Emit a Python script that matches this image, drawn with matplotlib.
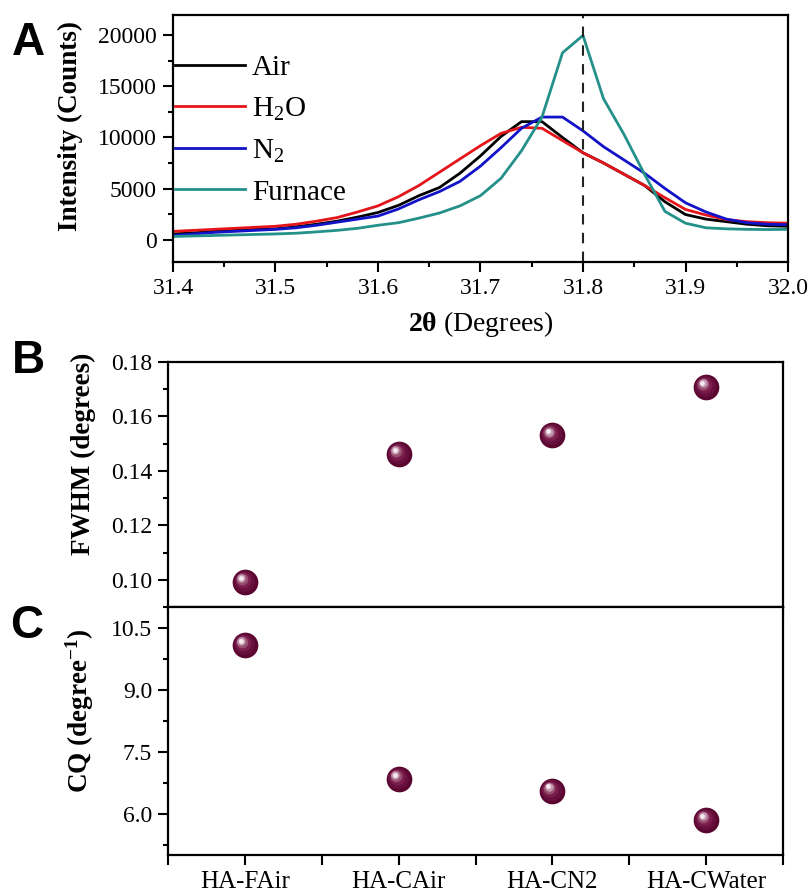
import matplotlib
matplotlib.use('Agg')
import matplotlib.pyplot as plt
import numpy as np
from matplotlib.transforms import offset_copy
from matplotlib.ticker import MultipleLocator, FormatStrFormatter

# ---------------- data ----------------
two_theta = [31.40, 31.42, 31.44, 31.46, 31.48, 31.50, 31.52, 31.54, 31.56, 31.58,
             31.60, 31.62, 31.64, 31.66, 31.68, 31.70, 31.72, 31.74, 31.76, 31.78,
             31.80, 31.82, 31.84, 31.86, 31.88, 31.90, 31.92, 31.94, 31.96, 31.98, 32.00]
air = [550, 650, 800, 900, 1000, 1050, 1250, 1500, 1800, 2200,
       2650, 3350, 4300, 5100, 6500, 8200, 10100, 11550, 11550, 10000,
       8500, 7500, 6400, 5300, 3700, 2450, 2000, 1750, 1500, 1350, 1300]
h2o = [800, 900, 1000, 1100, 1200, 1300, 1500, 1800, 2150, 2700,
       3300, 4200, 5300, 6600, 7900, 9200, 10400, 11000, 10900, 9700,
       8500, 7500, 6400, 5300, 4100, 2950, 2400, 1950, 1750, 1650, 1600]
n2 = [400, 550, 700, 800, 900, 1000, 1150, 1400, 1700, 2000,
      2300, 3000, 3900, 4700, 5700, 7200, 9000, 10900, 12000, 12000,
      10650, 9100, 7800, 6500, 5000, 3600, 2700, 2000, 1650, 1500, 1450]
furnace = [300, 350, 400, 450, 500, 550, 620, 750, 900, 1100,
           1400, 1650, 2100, 2600, 3300, 4300, 6000, 8700, 12000, 18300,
           20000, 13800, 10300, 6400, 2750, 1600, 1150, 1050, 1000, 980, 1000]
peak_ref = 31.8

samples = ['HA-FAir', 'HA-CAir', 'HA-CN2', 'HA-CWater']
fwhm = [0.0993, 0.1462, 0.1531, 0.1709]
cq = [10.09, 6.85, 6.56, 5.85]

# ---------------- style ----------------
plt.rcParams['font.family'] = ['Liberation Serif', 'DejaVu Serif']
plt.rcParams['mathtext.fontset'] = 'custom'
plt.rcParams['mathtext.rm'] = 'Liberation Serif'
plt.rcParams['mathtext.it'] = 'Liberation Serif:italic'
plt.rcParams['mathtext.bf'] = 'Liberation Serif:bold'

W, H = 810, 894
fig = plt.figure(figsize=(W / 100, H / 100), dpi=100)


def rect(l, t, r, b):
    return [l / W, 1 - b / H, (r - l) / W, (b - t) / H]


axA = fig.add_axes(rect(173, 15, 788, 262))
axB = fig.add_axes(rect(168, 362, 783, 607))
axC = fig.add_axes(rect(168, 607, 783, 855))

for ax in (axA, axB, axC):
    for s in ax.spines.values():
        s.set_linewidth(1.6)
    ax.tick_params(which='both', direction='out', width=1.5, top=False, right=False,
                   labelsize=17, pad=4)
    ax.tick_params(which='major', length=7.5)
    ax.tick_params(which='minor', length=3.5)

# ---------------- panel A ----------------
series = [(air, 'Air', '#000000'), (h2o, 'H$_2$O', '#e3151b'),
          (n2, 'N$_2$', '#1212c8'), (furnace, 'Furnace', '#24908a')]
for ys, lab, col in series:
    axA.plot(two_theta, ys, color=col, lw=2.0, label=lab)
axA.axvline(peak_ref, color='#222222', lw=1.5, ls=(0, (5, 4)))
axA.set_xlim(31.4, 32.0)
axA.set_ylim(-2200, 22000)
axA.xaxis.set_major_locator(MultipleLocator(0.1))
axA.xaxis.set_minor_locator(MultipleLocator(0.05))
axA.xaxis.set_major_formatter(FormatStrFormatter('%.1f'))
axA.yaxis.set_major_locator(MultipleLocator(5000))
axA.yaxis.set_minor_locator(MultipleLocator(2500))
axA.set_ylabel('Intensity (Counts)', fontsize=19.5, fontweight='bold')
axA.yaxis.set_label_coords(-0.146, 0.55)
axA.set_xlabel(r'$\mathbf{2θ}$ (Degrees)', fontsize=20, labelpad=7)
leg = axA.legend(loc='upper left', bbox_to_anchor=(0.003, 0.84), frameon=False,
                 fontsize=21, handlelength=2.4, handletextpad=0.25, labelspacing=0.5,
                 borderpad=0, borderaxespad=0)
for l in leg.get_lines():
    l.set_linewidth(2.0)


# ---------------- spheres ----------------
def spheres(ax, xs, ys):
    ax.plot(xs, ys, 'o', ms=18.5, color='#5a0631', mec='none', zorder=3)
    layers = [(-0.7, 0.7, 15, '#68103d'), (-1.4, 1.4, 11.5, '#7a1d4d'),
              (-2.1, 2.1, 8.5, '#985071'), (-2.6, 2.6, 6, '#c597b0'),
              (-2.9, 2.9, 3.5, '#f5eaf0')]
    for dx, dy, ms, c in layers:
        tr = offset_copy(ax.transData, fig=fig, x=dx, y=dy, units='points')
        ax.plot(xs, ys, 'o', ms=ms, color=c, mec='none', transform=tr, zorder=4)


xpos = np.arange(1, len(samples) + 1)
for ax, vals in ((axB, fwhm), (axC, cq)):
    spheres(ax, xpos, vals)
    ax.set_xlim(0.5, len(samples) + 0.5)
    ax.set_xticks(xpos)
    ax.xaxis.set_minor_locator(MultipleLocator(0.5))
    ax.tick_params(axis='x', which='both', length=7.5)

axB.tick_params(axis='x', labelbottom=False)
axB.set_ylim(0.09, 0.18)
axB.yaxis.set_major_locator(MultipleLocator(0.02))
axB.yaxis.set_minor_locator(MultipleLocator(0.01))
axB.yaxis.set_major_formatter(FormatStrFormatter('%.2f'))
axB.set_ylabel('FWHM (degrees)', fontsize=19.5, fontweight='bold')
axB.yaxis.set_label_coords(-0.117, 0.625)

axC.set_xticklabels(samples)
axC.tick_params(axis='x', labelsize=18, pad=4)
axC.set_ylim(5.0, 11.0)
axC.yaxis.set_major_locator(MultipleLocator(1.5))
axC.yaxis.set_minor_locator(MultipleLocator(0.75))
axC.yaxis.set_major_formatter(FormatStrFormatter('%.1f'))
axC.set_ylabel(r'CQ (degree$^{\mathbf{-1}}$)', fontsize=19.5, fontweight='bold')
axC.yaxis.set_label_coords(-0.117, 0.58)

# ---------------- panel letters ----------------
for lab, x, yb in (('A', 12, 55), ('B', 12, 373), ('C', 10, 638)):
    fig.text(x / W, 1 - yb / H, lab, fontfamily='Liberation Sans', fontweight='bold',
             fontsize=33, va='baseline', ha='left')

fig.savefig('out.png', dpi=100)
